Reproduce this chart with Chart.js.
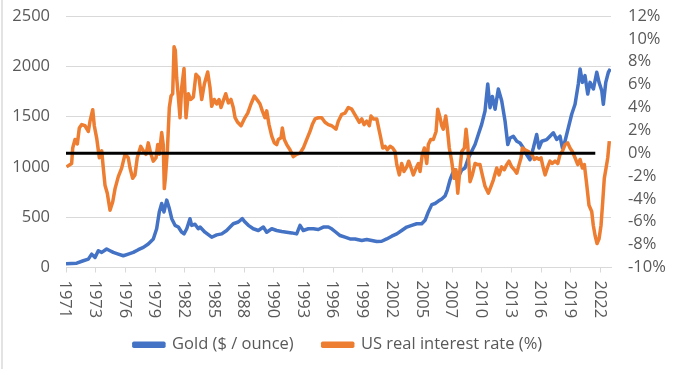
<!DOCTYPE html>
<html lang="en">
<head>
  <meta charset="UTF-8">
  <title>Gold vs US real interest rate</title>
  <script src="https://cdn.jsdelivr.net/npm/chart.js@4.4.1/dist/chart.umd.min.js"></script>
  <style>
    html, body { margin: 0; padding: 0; background: #fff; }
    #wrap { position: relative; width: 676px; height: 369px; }
    #edge { position: absolute; left: 1px; top: 0; width: 2px; height: 369px; background: #e3e3e3; }
  </style>
</head>
<body>
  <div id="wrap">
    <canvas id="chart" width="676" height="369"></canvas>
    <div id="edge"></div>
  </div>

  <script>
    // gold price, $ / ounce (left axis)
    const goldYears = [
      1971.0, 1972.02, 1972.65, 1973.13, 1973.45, 1973.77, 1974.08, 1974.41, 1974.88, 1975.2,
      1975.51, 1975.99, 1976.47, 1976.94, 1977.42, 1977.9, 1978.38, 1978.85, 1979.33, 1979.65,
      1979.9, 1980.13, 1980.35, 1980.61, 1980.86, 1981.09, 1981.4, 1981.72, 1982.04, 1982.26,
      1982.52, 1982.83, 1982.99, 1983.31, 1983.62, 1983.79, 1984.26, 1984.9, 1985.38, 1985.86,
      1986.33, 1986.65, 1986.96, 1987.44, 1987.82, 1988.08, 1988.4, 1988.87, 1989.35, 1989.83,
      1990.15, 1990.63, 1991.1, 1991.58, 1992.06, 1992.54, 1993.01, 1993.33, 1993.64, 1994.12,
      1994.6, 1995.07, 1995.55, 1996.03, 1996.35, 1996.67, 1997.15, 1997.62, 1998.1, 1998.58,
      1999.22, 1999.69, 2000.17, 2000.65, 2001.12, 2001.6, 2002.08, 2002.56, 2003.03, 2003.51,
      2003.99, 2004.46, 2004.94, 2005.26, 2005.57, 2005.9, 2006.21, 2006.53, 2006.85, 2007.16,
      2007.38, 2007.64, 2007.9, 2008.12, 2008.43, 2008.76, 2009.07, 2009.39, 2009.71, 2010.03,
      2010.34, 2010.66, 2010.98, 2011.24, 2011.46, 2011.68, 2011.94, 2012.25, 2012.57, 2012.89,
      2013.15, 2013.37, 2013.68, 2014.01, 2014.32, 2014.64, 2014.96, 2015.27, 2015.59, 2015.91,
      2016.13, 2016.39, 2016.87, 2017.18, 2017.5, 2017.82, 2018.14, 2018.36, 2018.61, 2018.93,
      2019.25, 2019.57, 2019.88, 2020.05, 2020.27, 2020.52, 2020.78, 2021.0, 2021.32, 2021.64,
      2021.86, 2022.12, 2022.27, 2022.5, 2022.75, 2022.94
    ];
    const goldPrice = [
      38, 43, 67, 83, 133, 100, 167, 150, 184, 167,
      150, 133, 117, 133, 150, 177, 200, 234, 284, 385,
      552, 636, 552, 670, 586, 485, 419, 402, 351, 334,
      385, 485, 419, 430, 385, 402, 351, 301, 324, 334,
      368, 402, 435, 452, 485, 452, 419, 385, 368, 402,
      351, 385, 368, 358, 351, 344, 334, 419, 368, 385,
      385, 378, 402, 402, 385, 358, 318, 301, 284, 284,
      268, 278, 268, 258, 261, 284, 311, 334, 368, 402,
      419, 435, 435, 469, 552, 625, 636, 660, 680, 710,
      770, 870, 940, 970, 900, 970, 990, 1087, 1155, 1222,
      1322, 1423, 1556, 1824, 1589, 1700, 1573, 1774, 1657, 1456,
      1222, 1288, 1305, 1255, 1238, 1188, 1121, 1071, 1188, 1322,
      1188, 1255, 1272, 1305, 1339, 1272, 1305, 1188, 1255, 1389,
      1523, 1623, 1824, 1974, 1840, 1907, 1724, 1840, 1774, 1941,
      1840, 1757, 1623, 1840, 1941, 1974
    ];

    // US real interest rate, % (right axis)
    const rateYears = [
      1971.05, 1971.54, 1971.64, 1971.86, 1972.08, 1972.27, 1972.5, 1972.81, 1973.13, 1973.29,
      1973.55, 1973.7, 1973.93, 1974.18, 1974.41, 1974.56, 1974.72, 1974.94, 1975.2, 1975.46,
      1975.68, 1975.99, 1976.31, 1976.63, 1976.94, 1977.11, 1977.36, 1977.58, 1977.8, 1978.13,
      1978.38, 1978.63, 1978.85, 1979.08, 1979.33, 1979.59, 1979.75, 1979.9, 1980.13, 1980.28,
      1980.38, 1980.48, 1980.67, 1980.86, 1981.02, 1981.18, 1981.31, 1981.43, 1981.56, 1981.72,
      1981.88, 1982.04, 1982.26, 1982.45, 1982.67, 1982.9, 1983.15, 1983.4, 1983.69, 1983.95,
      1984.2, 1984.52, 1984.74, 1984.9, 1985.15, 1985.38, 1985.6, 1985.79, 1986.01, 1986.24,
      1986.49, 1986.74, 1986.96, 1987.13, 1987.38, 1987.7, 1988.01, 1988.34, 1988.65, 1988.97,
      1989.29, 1989.51, 1989.73, 1989.99, 1990.15, 1990.37, 1990.63, 1990.88, 1991.1, 1991.26,
      1991.52, 1991.64, 1991.83, 1992.06, 1992.37, 1992.69, 1993.01, 1993.33, 1993.64, 1993.97,
      1994.28, 1994.5, 1994.76, 1995.07, 1995.4, 1995.71, 1996.03, 1996.35, 1996.76, 1996.98,
      1997.31, 1997.62, 1997.94, 1998.26, 1998.48, 1998.74, 1998.99, 1999.22, 1999.44, 1999.69,
      1999.94, 2000.1, 2000.32, 2000.65, 2000.9, 2001.03, 2001.22, 2001.44, 2001.66, 2001.92,
      2002.17, 2002.39, 2002.56, 2002.8, 2003.03, 2003.25, 2003.51, 2003.7, 2003.89, 2004.14,
      2004.4, 2004.62, 2004.78, 2005.0, 2005.19, 2005.42, 2005.57, 2005.8, 2006.05, 2006.31,
      2006.47, 2006.69, 2006.85, 2007.0, 2007.23, 2007.38, 2007.57, 2007.8, 2008.02, 2008.21,
      2008.38, 2008.6, 2008.76, 2009.01, 2009.17, 2009.33, 2009.55, 2009.77, 2010.03, 2010.28,
      2010.5, 2010.72, 2010.98, 2011.3, 2011.55, 2011.77, 2012.1, 2012.32, 2012.57, 2012.82,
      2013.05, 2013.27, 2013.53, 2013.78, 2014.01, 2014.23, 2014.42, 2014.54, 2014.8, 2015.11,
      2015.44, 2015.68, 2015.91, 2016.13, 2016.32, 2016.54, 2016.71, 2016.96, 2017.18, 2017.4,
      2017.66, 2017.92, 2018.14, 2018.36, 2018.61, 2018.87, 2019.09, 2019.31, 2019.57, 2019.83,
      2020.05, 2020.27, 2020.46, 2020.69, 2020.9, 2021.16, 2021.31, 2021.48, 2021.67, 2021.86,
      2022.05, 2022.21, 2022.36, 2022.53, 2022.69, 2022.84
    ];
    const realRate = [
      -1.2, -0.9, 0.45, 1.2, 0.8, 2.2, 2.5, 2.4, 1.9, 2.8,
      3.8, 2.4, 1.3, -0.4, 0.2, -1.3, -2.8, -3.5, -5.0, -4.25,
      -3.1, -2.05, -1.3, -0.1, -0.4, -1.3, -2.2, -1.9, -0.4, 0.6,
      0.2, -0.1, 0.9, 0.0, -0.7, -0.4, 0.75, -0.1, 1.8, 0.75,
      -3.1, -2.2, 0.2, 4.0, 5.0, 5.2, 9.3, 9.0, 6.6, 4.9,
      3.1, 5.75, 7.4, 3.1, 5.2, 4.7, 4.9, 6.9, 6.6, 4.7,
      6.05, 7.1, 5.75, 4.1, 4.7, 4.3, 4.7, 4.0, 4.6, 5.2,
      4.4, 4.7, 4.0, 3.1, 2.7, 2.4, 3.0, 3.5, 4.3, 5.0,
      4.6, 4.3, 3.7, 3.1, 3.7, 2.5, 1.5, 0.9, 0.75, 1.2,
      1.35, 2.2, 1.2, 0.75, 0.3, -0.3, -0.1, 0.0, 0.45, 1.2,
      1.9, 2.5, 3.0, 3.1, 3.1, 2.7, 2.5, 2.4, 2.1, 2.8,
      3.4, 3.5, 4.0, 3.85, 3.5, 3.1, 2.7, 3.0, 2.5, 2.8,
      2.4, 3.25, 3.0, 3.0, 1.9, 1.35, 0.45, 0.6, 0.3, 0.6,
      0.45, 0.15, -1.0, -1.9, -0.9, -1.6, -1.2, -0.7, -1.2, -1.9,
      -1.3, -0.9, -1.6, -0.1, 0.45, -0.9, 0.75, 1.2, 1.2, 1.9,
      3.85, 3.1, 2.4, 2.1, 3.25, 2.2, 0.45, -0.7, -2.2, -1.45,
      -3.5, -1.3, 0.15, 0.45, 2.1, 0.75, -2.5, -1.9, -0.9, -1.0,
      -1.0, -1.9, -2.9, -3.5, -2.9, -2.35, -1.3, -1.9, -1.2, -1.45,
      -1.0, -0.7, -1.2, -1.45, -1.75, -1.0, -0.4, 0.45, 0.3, 0.15,
      -0.1, -0.55, -0.4, -0.55, -0.4, -1.3, -1.9, -1.2, -0.7, -0.9,
      -0.7, -0.9, -0.1, 0.15, 0.75, 0.9, 0.45, 0.15, -0.4, -1.0,
      -0.55, -1.3, -1.0, -2.8, -4.55, -5.1, -6.3, -7.2, -7.9, -7.5,
      -6.3, -4.25, -2.2, -1.3, -0.4, 1.05
    ];

    // black 0% reference line
    const zeroYears = [1971, 2021.5];
    const zeroRate = [0, 0];

    // x axis tick positions and labels
    const xTickYears = [1971, 1973.83, 1976.67, 1979.5, 1982.33, 1985.17, 1988, 1990.83, 1993.67, 1996.5,
      1999.33, 2002.17, 2005, 2007.83, 2010.67, 2013.5, 2016.33, 2019.17, 2022];
    const xTickLabels = ["1971", "1973", "1976", "1979", "1982", "1985", "1988", "1990", "1993", "1996",
      "1999", "2002", "2005", "2007", "2010", "2013", "2016", "2019", "2022"];

    const textColor = "#595959";
    const gridColor = "#d9d9d9";
    const fontFamily = "'Open Sans', 'Liberation Sans', sans-serif";
    const fontSize = 16.5;

    function points(xs, ys) {
      return xs.map((x, i) => ({ x: x, y: ys[i] }));
    }

    // fixed axis sizes so the plot area sits where the original has it
    function fixWidth(w) {
      return s => { s.width = w; s.paddingTop = 0; s.paddingBottom = 0; };
    }

    // x labels are drawn turned clockwise (read top to bottom)
    const verticalXLabels = {
      id: "verticalXLabels",
      afterDraw(chart) {
        const ctx = chart.ctx;
        const xs = chart.scales.x;
        ctx.save();
        ctx.font = fontSize + "px " + fontFamily;
        ctx.fillStyle = textColor;
        ctx.textAlign = "left";
        ctx.textBaseline = "alphabetic";
        xs.ticks.forEach((t, i) => {
          const px = xs.getPixelForValue(t.value);
          ctx.save();
          ctx.translate(px, xs.top + 13);
          ctx.rotate(Math.PI / 2);
          ctx.fillText(xTickLabels[i], 0, 5.8);
          ctx.restore();
        });
        ctx.restore();
      }
    };

    new Chart(document.getElementById("chart"), {
      type: "line",
      data: {
        datasets: [
          {
            label: "Gold ($ / ounce)",
            data: points(goldYears, goldPrice),
            yAxisID: "y",
            borderColor: "#4472C4",
            backgroundColor: "#4472C4",
            borderWidth: 3.5,
            pointRadius: 0,
            tension: 0,
            borderJoinStyle: "round",
            order: 3
          },
          {
            label: "US real interest rate (%)",
            data: points(rateYears, realRate),
            yAxisID: "y1",
            borderColor: "#ED7D31",
            backgroundColor: "#ED7D31",
            borderWidth: 3.5,
            pointRadius: 0,
            tension: 0,
            borderJoinStyle: "round",
            order: 2
          },
          {
            label: "zero",
            data: points(zeroYears, zeroRate),
            yAxisID: "y1",
            borderColor: "#000000",
            borderWidth: 3,
            pointRadius: 0,
            order: 1
          }
        ]
      },
      options: {
        responsive: false,
        animation: false,
        devicePixelRatio: 1,
        layout: { padding: { top: 16, bottom: 6, left: 0, right: 0 } },
        plugins: {
          legend: {
            position: "bottom",
            labels: {
              boxWidth: 30,
              boxHeight: 3,
              padding: 29,
              color: textColor,
              font: { family: fontFamily, size: fontSize },
              filter: item => item.datasetIndex !== 2,
              sort: (a, b) => a.datasetIndex - b.datasetIndex
            }
          },
          tooltip: { enabled: false }
        },
        scales: {
          x: {
            type: "linear",
            min: 1971,
            max: 2023,
            afterBuildTicks: s => { s.ticks = xTickYears.map(v => ({ value: v })); },
            afterFit: s => { s.height = 40; },
            ticks: { display: false },
            grid: { drawOnChartArea: false, drawTicks: true, tickLength: 5, color: gridColor },
            border: { color: gridColor }
          },
          y: {
            position: "left",
            min: 0,
            max: 2500,
            afterFit: fixWidth(66),
            ticks: {
              stepSize: 500,
              padding: 16,
              color: textColor,
              font: { family: fontFamily, size: fontSize },
              callback: v => String(v)
            },
            grid: { color: gridColor, drawTicks: false },
            border: { display: false }
          },
          y1: {
            position: "right",
            min: -10,
            max: 12,
            afterFit: fixWidth(65),
            ticks: {
              stepSize: 2,
              autoSkip: false,
              padding: 17,
              color: textColor,
              font: { family: fontFamily, size: fontSize },
              callback: v => v + "%"
            },
            grid: { drawOnChartArea: false, drawTicks: false },
            border: { display: false }
          }
        }
      },
      plugins: [verticalXLabels]
    });
  </script>
</body>
</html>
